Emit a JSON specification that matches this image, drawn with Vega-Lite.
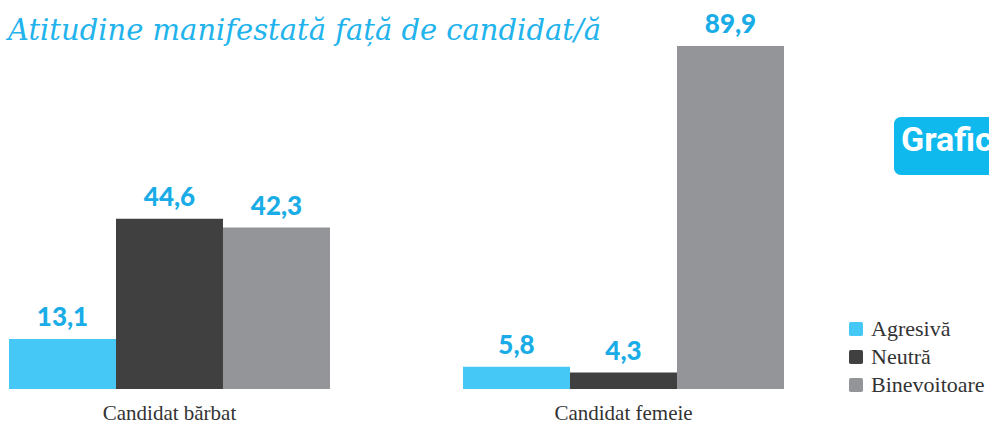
{
  "$schema": "https://vega.github.io/schema/vega-lite/v6.json",
  "width": 775,
  "height": 343,
  "autosize": {"type": "none"},
  "padding": {"left": 9, "top": 46, "right": 205, "bottom": 34},
  "background": "white",
  "title": {
    "text": "Atitudine manifestată față de candidat/ă",
    "anchor": "start",
    "frame": "group",
    "font": "DejaVu Serif",
    "fontStyle": "italic",
    "fontWeight": "normal",
    "fontSize": 29,
    "color": "#22b3ec",
    "baseline": "alphabetic",
    "offset": -57,
    "dx": -1
  },
  "data": {
    "values": [
      {"candidat": "Candidat bărbat", "atitudine": "Agresivă", "valoare": 13.1, "eticheta": "13,1"},
      {"candidat": "Candidat bărbat", "atitudine": "Neutră", "valoare": 44.6, "eticheta": "44,6"},
      {"candidat": "Candidat bărbat", "atitudine": "Binevoitoare", "valoare": 42.3, "eticheta": "42,3"},
      {"candidat": "Candidat femeie", "atitudine": "Agresivă", "valoare": 5.8, "eticheta": "5,8"},
      {"candidat": "Candidat femeie", "atitudine": "Neutră", "valoare": 4.3, "eticheta": "4,3"},
      {"candidat": "Candidat femeie", "atitudine": "Binevoitoare", "valoare": 89.9, "eticheta": "89,9"}
    ]
  },
  "encoding": {
    "x": {
      "field": "candidat",
      "type": "nominal",
      "sort": ["Candidat bărbat", "Candidat femeie"],
      "scale": {"paddingInner": 0.293, "paddingOuter": 0},
      "axis": {
        "title": null,
        "domain": false,
        "ticks": false,
        "labelAngle": 0,
        "labelFont": "Liberation Serif",
        "labelFontSize": 21,
        "labelColor": "#333333",
        "labelPadding": 13,
        "labelBaseline": "top"
      }
    },
    "xOffset": {
      "field": "atitudine",
      "type": "nominal",
      "sort": ["Agresivă", "Neutră", "Binevoitoare"],
      "scale": {"paddingInner": 0, "paddingOuter": 0}
    },
    "y": {
      "field": "valoare",
      "type": "quantitative",
      "scale": {"domain": [0, 89.9], "nice": false, "zero": true},
      "axis": null
    }
  },
  "layer": [
    {
      "mark": {"type": "bar"},
      "encoding": {
        "color": {
          "field": "atitudine",
          "type": "nominal",
          "sort": ["Agresivă", "Neutră", "Binevoitoare"],
          "scale": {
            "domain": ["Agresivă", "Neutră", "Binevoitoare"],
            "range": ["#45c8f5", "#404040", "#939598"]
          },
          "legend": {
            "title": null,
            "orient": "none",
            "legendX": 836,
            "legendY": 272,
            "symbolType": "M -0.75 -1 L 0.75 -1 Q 1 -1 1 -0.75 L 1 0.75 Q 1 1 0.75 1 L -0.75 1 Q -1 1 -1 0.75 L -1 -0.75 Q -1 -1 -0.75 -1 Z",
            "symbolSize": 196,
            "symbolStrokeWidth": 0,
            "symbolOpacity": 1,
            "labelFont": "Liberation Serif",
            "labelFontSize": 22,
            "labelColor": "#333333",
            "labelOffset": 4,
            "rowPadding": 6
          }
        }
      }
    },
    {
      "mark": {
        "type": "text",
        "baseline": "alphabetic",
        "dy": -13,
        "font": "Lato",
        "fontWeight": 900,
        "fontSize": 26,
        "color": "#1aace6"
      },
      "encoding": {
        "text": {"field": "eticheta"},
        "opacity": {
          "field": "candidat",
          "type": "nominal",
          "scale": {"range": [1, 1]},
          "legend": {
            "title": "Graficul",
            "orient": "none",
            "legendX": 885,
            "legendY": 71,
            "fillColor": "#0fb9ee",
            "cornerRadius": 7,
            "padding": 7,
            "titleFont": "Roboto",
            "titleFontWeight": "bold",
            "titleFontSize": 34,
            "titleColor": "white",
            "titlePadding": 0,
            "titleLimit": 300,
            "symbolSize": 0,
            "symbolOpacity": 0,
            "symbolStrokeWidth": 0,
            "labelFontSize": 0,
            "labelOpacity": 0,
            "rowPadding": 0,
            "symbolType": "square"
          }
        }
      }
    }
  ],
  "config": {
    "view": {"stroke": null}
  }
}
